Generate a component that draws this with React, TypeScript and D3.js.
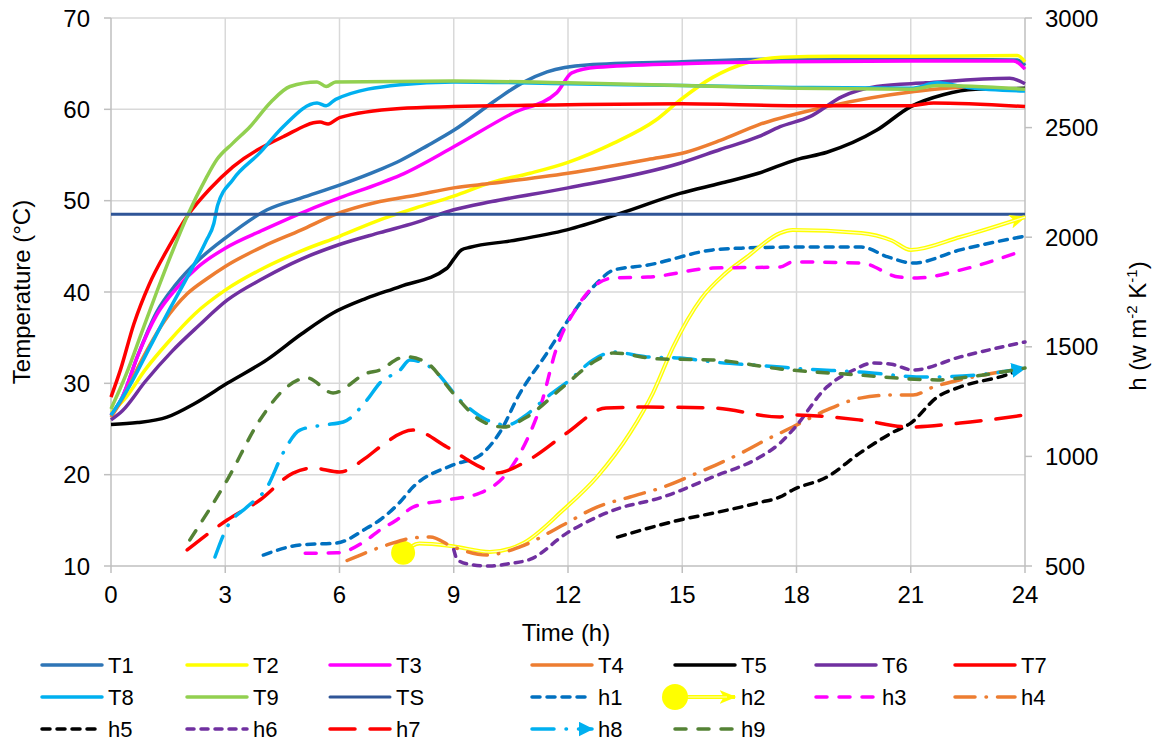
import React from 'react';
import * as d3 from 'd3';

type Pt = [number, number];

// axis ticks
const xTicks = [0, 3, 6, 9, 12, 15, 18, 21, 24];
const tempTicks = [10, 20, 30, 40, 50, 60, 70];
const hTicks = [500, 1000, 1500, 2000, 2500, 3000];

// temperatures (°C), [time h, value]
const T1: Pt[] = [[0, 26.5], [0.3, 28.5], [0.7, 33], [1.2, 37.8], [1.7, 40.8], [2.3, 43.5], [3, 45.9], [4.1, 49.0], [5, 50.3], [6, 51.7], [7.06, 53.4], [7.6, 54.4], [8.3, 56.0], [9, 57.7], [10.1, 61.0], [10.8, 62.9], [11.45, 64.1], [12.5, 64.85], [15, 65.2], [17.6, 65.5], [21, 65.5], [23.8, 65.4], [24, 64.8]];
const T2: Pt[] = [[0, 26.8], [0.4, 28.5], [0.9, 31.5], [1.5, 34.5], [2.2, 37.6], [3, 40.2], [4, 42.6], [5, 44.5], [6, 46.1], [7.06, 47.9], [8, 49.2], [9, 50.5], [10, 52.0], [11, 53.0], [12, 54.2], [13.2, 56.3], [14.3, 58.8], [14.94, 61.0], [15.8, 63.5], [16.7, 65.1], [17.6, 65.7], [19, 65.8], [21, 65.8], [23.8, 65.9], [24, 65.2]];
const T3: Pt[] = [[0, 26.5], [0.3, 28.5], [0.7, 33], [1.2, 37.5], [1.7, 40.3], [2.3, 42.8], [3, 44.8], [4, 46.8], [5.2, 49.0], [6, 50.3], [7.06, 51.9], [7.6, 52.8], [9, 55.9], [10.56, 59.6], [11.7, 61.8], [12.1, 64.0], [12.76, 64.6], [15, 65.0], [17.6, 65.2], [21, 65.3], [23.7, 65.3], [24, 64.4]];
const T4: Pt[] = [[0, 26.3], [0.3, 28.3], [0.8, 32.5], [1.4, 36.8], [2, 39.8], [2.5, 41.4], [3, 42.8], [4, 45.0], [5, 46.8], [5.83, 48.4], [7.06, 49.9], [8, 50.6], [9, 51.4], [10, 51.9], [12, 53.0], [14.1, 54.5], [15.1, 55.3], [16, 56.6], [17, 58.3], [18.8, 60.3], [21, 61.9], [22.3, 62.4], [24, 62.2]];
const T5: Pt[] = [[0, 25.5], [0.7, 25.7], [1.47, 26.3], [2.2, 27.8], [3.05, 30.0], [4.1, 32.6], [5, 35.4], [5.83, 37.7], [6.7, 39.3], [7.59, 40.6], [8.82, 42.6], [9.0, 43.6], [9.2, 44.6], [9.43, 44.9], [10.5, 45.6], [11.97, 46.8], [13.37, 48.6], [14.94, 50.8], [16, 51.9], [17, 53.0], [18, 54.5], [18.8, 55.3], [20.1, 57.7], [21, 60.3], [21.85, 61.6], [22.7, 62.2], [24, 62.3]];
const T6: Pt[] = [[0, 26.0], [0.3, 27.0], [0.9, 30.2], [1.6, 33.5], [2.3, 36.3], [3.05, 39.1], [4, 41.5], [5, 43.6], [6, 45.2], [7.06, 46.5], [8, 47.6], [9, 49.0], [10, 49.9], [12, 51.4], [14.94, 54.1], [16, 55.6], [17, 57.0], [17.57, 58.1], [18.35, 59.2], [19.2, 61.4], [20.1, 62.5], [21.4, 62.9], [23.6, 63.4], [24, 62.8]];
const T7: Pt[] = [[0, 28.5], [0.25, 31.5], [0.6, 36.5], [1.0, 40.8], [1.5, 44.8], [2, 48.3], [2.6, 51.3], [3.2, 53.7], [4.52, 57.0], [5.49, 58.6], [5.7, 58.4], [6, 59.1], [7.59, 60.1], [9, 60.3], [12, 60.5], [15, 60.6], [18, 60.4], [21, 60.4], [21.6, 60.7], [24, 60.3]];
const T8: Pt[] = [[0, 26.5], [0.5, 29.8], [1, 33.8], [1.5, 37.8], [2, 41.6], [2.5, 45.6], [2.7, 47.5], [2.8, 49.5], [3.2, 52.3], [3.9, 55.2], [4.52, 58.1], [5.41, 60.7], [5.65, 60.4], [5.9, 61.1], [7.59, 62.7], [9, 63.0], [12, 62.8], [15, 62.6], [18, 62.4], [21, 62.3], [21.7, 62.9], [22.5, 62.4], [24, 62.0]];
const T9: Pt[] = [[0, 27.2], [0.4, 31.0], [0.8, 35.5], [1.2, 40.0], [1.6, 44.3], [2, 48.3], [2.5, 52.5], [2.78, 54.5], [3.2, 56.3], [3.65, 58.1], [4.2, 60.8], [4.7, 62.5], [5.41, 63.0], [5.65, 62.5], [5.9, 63.0], [9, 63.1], [12, 62.9], [15, 62.6], [18, 62.3], [21, 62.2], [21.7, 62.6], [24, 62.2]];
const TS: Pt[] = [[0, 48.5], [24, 48.5]];

// heat transfer coefficients (w m-2 K-1), [time h, value]
const h1: Pt[] = [[4, 550], [4.96, 596], [5.93, 605], [6.72, 673], [7.06, 710], [7.59, 792], [7.93, 860], [8.98, 961], [9.69, 1005], [10.2, 1107], [10.74, 1289], [11.45, 1472], [12.13, 1654], [12.76, 1791], [13.2, 1850], [14.1, 1873], [15.8, 1942], [16.7, 1951], [17.9, 1955], [19.7, 1955], [20.4, 1910], [21.06, 1882], [22.3, 1942], [24, 2005]];
const h2: Pt[] = [[7.67, 560], [8.1, 603], [8.98, 590], [9.95, 564], [10.83, 605], [11.87, 755], [12.76, 906], [13.63, 1107], [14.23, 1289], [14.76, 1499], [15.5, 1720], [16.1, 1830], [16.7, 1910], [17.57, 2019], [17.9, 2033], [19.7, 2019], [20.5, 1985], [21.0, 1942], [22.3, 2001], [24, 2092]];
const h3: Pt[] = [[5.1, 558], [5.93, 560], [6.72, 619], [7.06, 664], [7.5, 710], [7.93, 769], [8.82, 801], [9.69, 833], [10.4, 924], [10.92, 1075], [11.27, 1225], [11.71, 1499], [12.24, 1682], [12.66, 1773], [13.2, 1814], [14.1, 1818], [15.8, 1859], [17.57, 1864], [17.9, 1887], [19.7, 1882], [20.7, 1818], [21.17, 1814], [22.3, 1850], [24, 1942]];
const h4: Pt[] = [[6.2, 525], [7.25, 596], [7.93, 628], [8.38, 632], [8.98, 587], [9.87, 550], [10.74, 587], [11.87, 687], [12.76, 769], [13.63, 815], [14.5, 860], [15.39, 924], [16.7, 1029], [17.04, 1061], [17.9, 1134], [18.8, 1212], [19.67, 1266], [20.5, 1280], [21.06, 1280], [21.6, 1317], [22.3, 1349], [24, 1403]];
const h5: Pt[] = [[13.3, 632], [14.94, 710], [16, 748], [17.04, 790], [17.57, 815], [17.9, 847], [18.8, 906], [19.67, 1016], [20.5, 1107], [21.0, 1152], [21.7, 1271], [22.3, 1317], [23.5, 1371], [24, 1403]];
const h6: Pt[] = [[9.0, 575], [9.1, 527], [9.5, 505], [9.95, 500], [10.5, 512], [11.0, 530], [11.97, 650], [13.2, 755], [14.5, 815], [15.8, 906], [17.04, 997], [17.57, 1061], [17.9, 1120], [18.8, 1317], [19.5, 1394], [20.0, 1426], [20.5, 1420], [21.06, 1394], [22.3, 1454], [24, 1522]];
const h7: Pt[] = [[2.0, 573], [3.05, 710], [3.91, 801], [4.78, 924], [5.3, 947], [6.0, 929], [6.72, 997], [7.06, 1043], [7.93, 1120], [8.82, 1043], [9.69, 952], [10.1, 924], [10.97, 984], [11.97, 1107], [13.0, 1221], [14.07, 1225], [15.8, 1221], [17.57, 1180], [17.9, 1189], [19.67, 1166], [21.0, 1134], [22.3, 1152], [24, 1189]];
const h8: Pt[] = [[2.73, 541], [3.05, 678], [3.57, 769], [4.1, 860], [4.52, 1016], [4.96, 1120], [5.57, 1143], [6.1, 1157], [6.72, 1257], [7.06, 1335], [7.59, 1394], [7.85, 1440], [8.38, 1408], [9.24, 1244], [9.87, 1166], [10.4, 1143], [10.83, 1180], [11.45, 1271], [12.05, 1349], [12.66, 1440], [13.2, 1476], [14.07, 1454], [14.94, 1449], [15.8, 1431], [17.57, 1408], [17.9, 1403], [19.67, 1385], [21.4, 1362], [22.7, 1371], [24, 1403]];
const h9: Pt[] = [[2.07, 619], [3.05, 892], [3.91, 1166], [4.62, 1317], [5.15, 1358], [5.83, 1289], [6.72, 1380], [7.06, 1394], [7.59, 1449], [7.77, 1454], [8.3, 1426], [8.98, 1289], [9.69, 1166], [10.3, 1134], [10.92, 1180], [11.87, 1317], [12.76, 1440], [13.2, 1472], [14.34, 1445], [15.8, 1440], [17.57, 1399], [19.67, 1371], [21.7, 1349], [22.3, 1358], [24, 1403]];

type Series = { name: string; data: Pt[]; color: string; dash?: string; width: number; axis: 'T' | 'h' };

const series: Series[] = [
  { name: 'T1', data: T1, color: '#2E75B6', width: 3.5, axis: 'T' },
  { name: 'T2', data: T2, color: '#FFFF00', width: 3.5, axis: 'T' },
  { name: 'T3', data: T3, color: '#FF00FF', width: 3.5, axis: 'T' },
  { name: 'T4', data: T4, color: '#ED7D31', width: 3.5, axis: 'T' },
  { name: 'T5', data: T5, color: '#000000', width: 3.5, axis: 'T' },
  { name: 'T6', data: T6, color: '#7030A0', width: 3.5, axis: 'T' },
  { name: 'T7', data: T7, color: '#FF0000', width: 3.5, axis: 'T' },
  { name: 'T8', data: T8, color: '#00B0F0', width: 3.5, axis: 'T' },
  { name: 'T9', data: T9, color: '#92D050', width: 3.5, axis: 'T' },
  { name: 'TS', data: TS, color: '#2F5597', width: 3, axis: 'T' },
  { name: 'h1', data: h1, color: '#0070C0', dash: '8,7', width: 3.5, axis: 'h' },
  { name: 'h2', data: h2, color: '#FFFF00', width: 4, axis: 'h' },
  { name: 'h3', data: h3, color: '#FF00FF', dash: '11,12', width: 3.5, axis: 'h' },
  { name: 'h4', data: h4, color: '#ED7D31', dash: '20,11,0.5,11', width: 3.5, axis: 'h' },
  { name: 'h5', data: h5, color: '#000000', dash: '8,7', width: 3.5, axis: 'h' },
  { name: 'h6', data: h6, color: '#7030A0', dash: '7,7', width: 3.5, axis: 'h' },
  { name: 'h7', data: h7, color: '#FF0000', dash: '25,15', width: 3.5, axis: 'h' },
  { name: 'h8', data: h8, color: '#00B0F0', dash: '22,12,0.5,12', width: 3.5, axis: 'h' },
  { name: 'h9', data: h9, color: '#548235', dash: '11,12', width: 3.5, axis: 'h' },
];

// legend layout (7 entries per row)
const legendTextX = [108, 253, 396, 598, 741, 882, 1021];
const legendRowY = [665, 697, 729];

const plot = { left: 111, right: 1025, top: 18, bottom: 566 };
const font = '"Liberation Sans", Arial, sans-serif';

const x = d3.scaleLinear().domain([0, 24]).range([plot.left, plot.right]);
const yT = d3.scaleLinear().domain([10, 70]).range([plot.bottom, plot.top]);
const yH = d3.scaleLinear().domain([500, 3000]).range([plot.bottom, plot.top]);

const lineT = d3.line<Pt>().x(d => x(d[0])).y(d => yT(d[1])).curve(d3.curveMonotoneX);
const lineH = d3.line<Pt>().x(d => x(d[0])).y(d => yH(d[1])).curve(d3.curveMonotoneX);

const App = () => {
  const grid = '#D9D9D9';
  const axisCol = '#BFBFBF';

  return (
    <svg width={1158} height={744} style={{ position: 'absolute', left: 0, top: 0, background: '#fff' }}
      fontFamily={font}>
      <defs>
        <marker id="arrowYellow" viewBox="0 0 12 10" refX="11" refY="5" markerUnits="userSpaceOnUse"
          markerWidth="17" markerHeight="14" orient="auto">
          <path d="M0,0 L12,5 L0,10 L3,5 Z" fill="#FFFF00" />
        </marker>
        <marker id="arrowCyan" viewBox="0 0 10 10" refX="9" refY="5" markerUnits="userSpaceOnUse"
          markerWidth="15" markerHeight="15" orient="auto">
          <path d="M0,0 L10,5 L0,10 Z" fill="#00B0F0" />
        </marker>
      </defs>

      {/* grid */}
      {tempTicks.filter(t => t > 10).map(t => (
        <line key={'gy' + t} x1={plot.left} x2={plot.right} y1={yT(t)} y2={yT(t)} stroke={grid} strokeWidth={1.5} />
      ))}
      {xTicks.filter(t => t > 0 && t < 24).map(t => (
        <line key={'gx' + t} x1={x(t)} x2={x(t)} y1={plot.top} y2={plot.bottom} stroke={grid} strokeWidth={1.5} />
      ))}

      {/* axes */}
      <line x1={plot.left} x2={plot.left} y1={plot.top} y2={plot.bottom} stroke={axisCol} strokeWidth={1.5} />
      <line x1={plot.right} x2={plot.right} y1={plot.top} y2={plot.bottom} stroke={axisCol} strokeWidth={1.5} />
      <line x1={plot.left} x2={plot.right} y1={plot.bottom} y2={plot.bottom} stroke={axisCol} strokeWidth={1.5} />
      {tempTicks.map(t => (
        <g key={'lt' + t}>
          <line x1={plot.left - 7} x2={plot.left} y1={yT(t)} y2={yT(t)} stroke={axisCol} strokeWidth={1.5} />
          <text x={90} y={yT(t) + 8.5} fontSize={24} textAnchor="end" fill="#000">{t}</text>
        </g>
      ))}
      {hTicks.map(t => (
        <g key={'rt' + t}>
          <line x1={plot.right} x2={plot.right + 7} y1={yH(t)} y2={yH(t)} stroke={axisCol} strokeWidth={1.5} />
          <text x={1045} y={yH(t) + 8.5} fontSize={24} fill="#000">{t}</text>
        </g>
      ))}
      {xTicks.map(t => (
        <g key={'xt' + t}>
          <line x1={x(t)} x2={x(t)} y1={plot.bottom} y2={plot.bottom + 7} stroke={axisCol} strokeWidth={1.5} />
          <text x={x(t)} y={603} fontSize={24} textAnchor="middle" fill="#000">{t}</text>
        </g>
      ))}

      {/* axis titles */}
      <text x={566} y={641} fontSize={24} textAnchor="middle">Time (h)</text>
      <text transform="translate(30,292) rotate(-90)" fontSize={24} textAnchor="middle">Temperature (°C)</text>
      <text transform="translate(1146,326) rotate(-90)" fontSize={24} textAnchor="middle">
        h (w m<tspan fontSize={15} dy={-9}>-2</tspan><tspan dy={9}> K</tspan>
        <tspan fontSize={15} dy={-9}>-1</tspan><tspan dy={9}>)</tspan>
      </text>

      {/* series */}
      {series.map(s => {
        const d = (s.axis === 'T' ? lineT : lineH)(s.data) || '';
        if (s.name === 'h2') {
          return (
            <g key={s.name}>
              <path d={d} fill="none" stroke={s.color} strokeWidth={s.width} markerEnd="url(#arrowYellow)" />
              <path d={d} fill="none" stroke="#FFFFC8" strokeWidth={1.2} />
              <circle cx={x(s.data[0][0])} cy={yH(s.data[0][1])} r={12} fill="#FFFF00" />
            </g>
          );
        }
        return (
          <path key={s.name} d={d} fill="none" stroke={s.color} strokeWidth={s.width}
            strokeDasharray={s.dash} strokeLinecap={s.dash ? 'round' : 'butt'} strokeLinejoin="round"
            markerEnd={s.name === 'h8' ? 'url(#arrowCyan)' : undefined} />
        );
      })}

      {/* legend */}
      {series.map((s, i) => {
        const col = i % 7;
        const row = Math.floor(i / 7);
        const tx = legendTextX[col];
        const cy = legendRowY[row];
        const x1 = tx - 66;
        const x2 = tx - 6;
        return (
          <g key={'lg' + s.name}>
            {s.name === 'h2' ? (
              <>
                <line x1={x1} x2={x2} y1={cy} y2={cy} stroke="#FFFF00" strokeWidth={4} markerEnd="url(#arrowYellow)" />
                <line x1={x1} x2={x2 - 8} y1={cy} y2={cy} stroke="#FFFFC8" strokeWidth={1.2} />
                <circle cx={x1} cy={cy} r={13} fill="#FFFF00" />
              </>
            ) : (
              <line x1={x1} x2={x2} y1={cy} y2={cy} stroke={s.color} strokeWidth={s.width}
                strokeDasharray={s.dash} strokeLinecap="round"
                markerEnd={s.name === 'h8' ? 'url(#arrowCyan)' : undefined} />
            )}
            <text x={tx} y={cy + 8} fontSize={22} fill="#000">{s.name}</text>
          </g>
        );
      })}
    </svg>
  );
};

export default App;
